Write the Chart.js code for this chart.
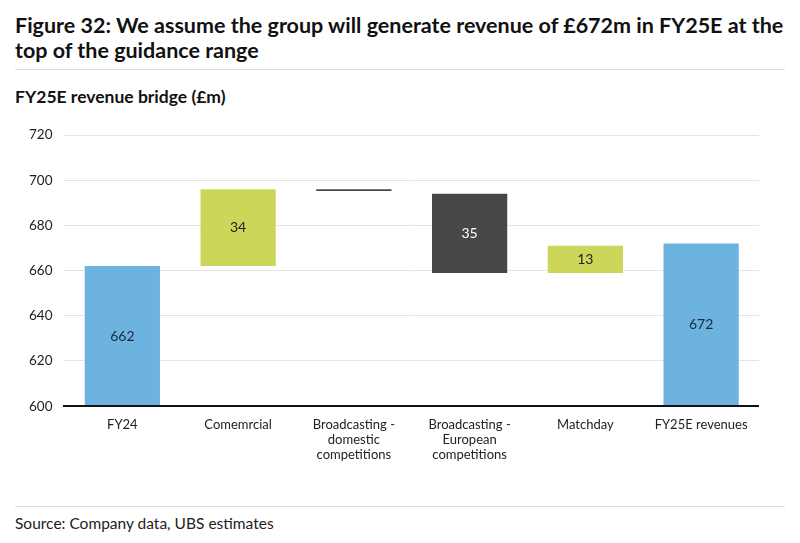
<!DOCTYPE html>
<html>
<head>
<meta charset="utf-8">
<script src="https://cdn.jsdelivr.net/npm/chart.js@4/dist/chart.umd.min.js"></script>
<style>
  body{margin:0;width:800px;height:543px;background:#fff;font-family:Lato,"Open Sans",sans-serif;color:#111;position:relative;overflow:hidden}
  .title{position:absolute;left:15px;top:13px;width:780px;font-weight:bold;font-size:21.5px;line-height:25px;white-space:nowrap}
  .rule{position:absolute;left:15px;width:770px;height:1px;background:#dcdcdc}
  .sub{position:absolute;left:15px;top:86px;font-weight:bold;font-size:17.5px}
  .src{position:absolute;left:15px;top:514px;font-size:15.5px;color:#222}
  #wrap{position:absolute;left:0;top:115px;width:759px;height:350px}
</style>
</head>
<body>
<div class="title">Figure 32: We assume the group will generate revenue of £672m in FY25E at the<br>top of the guidance range</div>
<div class="rule" style="top:69px"></div>
<div class="sub">FY25E revenue bridge (£m)</div>
<div id="wrap"><canvas id="chart"></canvas></div>
<div class="rule" style="top:506px"></div>
<div class="src">Source: Company data, UBS estimates</div>
<script>
const CATEGORIES=["FY24","Comemrcial",["Broadcasting -","domestic","competitions"],["Broadcasting -","European","competitions"],"Matchday","FY25E revenues"];
const LOWS=[600,662,695.2,659,659,600];
const HIGHS=[662,696,696,694,671,672];
const LABELS=["662","34","","35","13","672"];
const COLORS=["#6cb3df","#ccd75a","#4a4a4a","#474747","#ccd75a","#6cb3df"];
const LABEL_COLORS=["#1a2a3a","#222","#fff","#fff","#222","#1a2a3a"];

const barLabels={
  id:"barLabels",
  afterDatasetsDraw(chart){
    const ctx=chart.ctx;
    const meta=chart.getDatasetMeta(0);
    ctx.save();
    ctx.font="14px Lato, 'Open Sans', sans-serif";
    ctx.textAlign="center";
    ctx.textBaseline="middle";
    meta.data.forEach((bar,i)=>{
      if(!LABELS[i]) return;
      const p=bar.getProps(["x","y","base"],true);
      ctx.fillStyle=LABEL_COLORS[i];
      ctx.fillText(LABELS[i],p.x,(p.y+p.base)/2);
    });
    ctx.restore();
  }
};

new Chart(document.getElementById("chart"),{
  type:"bar",
  data:{
    labels:CATEGORIES,
    datasets:[{
      data:LOWS.map((l,i)=>[l,HIGHS[i]]),
      backgroundColor:COLORS,
      borderWidth:0,
      categoryPercentage:0.65,
      barPercentage:1
    }]
  },
  options:{
    responsive:true,
    maintainAspectRatio:false,
    animation:false,
    layout:{padding:{top:6,right:0,left:17,bottom:0}},
    plugins:{legend:{display:false},tooltip:{enabled:false}},
    scales:{
      x:{
        grid:{display:false},
        border:{color:"#111",width:2,z:1},
        ticks:{color:"#222",font:{family:"Lato, 'Open Sans', sans-serif",size:13,lineHeight:1.15},padding:3,maxRotation:0,autoSkip:false}
      },
      y:{
        min:600,max:720,
        ticks:{stepSize:20,color:"#222",font:{family:"Lato, 'Open Sans', sans-serif",size:13.5},padding:12},
        grid:{color:"#e4e4e4",drawTicks:false},
        border:{display:false}
      }
    }
  },
  plugins:[barLabels]
});
</script>
</body>
</html>
